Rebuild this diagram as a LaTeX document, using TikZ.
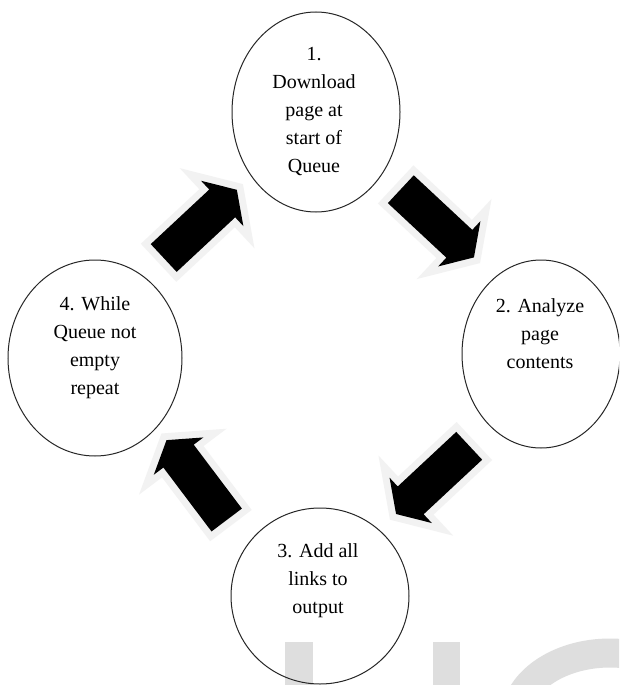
\documentclass[tikz,border=0pt]{standalone}
\usepackage{fontspec}
\setmainfont{Liberation Serif}
\usetikzlibrary{shapes,arrows,positioning}

\begin{document}
\begin{tikzpicture}[x=1pt,y=-1pt]
  \tikzstyle{stage}=[ellipse, draw=black!85, line width=1pt, inner sep=0pt]
  \tikzstyle{stagetext}=[align=center, inner sep=0pt, font=\fontsize{20}{28}\selectfont]
  \tikzstyle{glow}=[draw=black!5, line width=14pt, line join=miter]
  \tikzstyle{wmark}=[fill=black!13]

  \clip (0,0) rectangle (619,685);
  \fill[white] (0,0) rectangle (619,685);

  % watermark at the bottom
  \fill[wmark] (285,642) rectangle (313,690);
  \fill[wmark] (433,642) rectangle (460,690);
  \draw[black!13, line width=29pt] (610,720) ellipse [x radius=95, y radius=67];

  % block arrows (tail x / tail y / angle)
  \foreach \x/\y/\a in {163.7/258/43, 400.8/189.2/-43, 469.2/445.8/-137, 226.7/520/127}
    \path[shift={(\x,\y)}, rotate=\a, fill=black, preaction={glow}]
      (0,-19) -- (80,-19) -- (80,-31) -- (100,0) -- (80,31) -- (80,19) -- (0,19) -- cycle;

  \node[stage, minimum width=168, minimum height=200] (s1) at (316,112) {};
  \node[stage, minimum width=158, minimum height=188] (s2) at (541,354) {};
  \node[stage, minimum width=178, minimum height=176] (s3) at (320,596) {};
  \node[stage, minimum width=174, minimum height=196] (s4) at (95,358) {};

  \node[stagetext] (t1) at (314,112) {1.\\Download\\page at\\start of\\Queue};
  \node[stagetext] (t2) at (540,334) {2. Analyze\\page\\contents};
  \node[stagetext] (t3) at (318,581) {3. Add all\\links to\\output};
  \node[stagetext] (t4) at (95,348) {4. While\\Queue not\\empty\\repeat};
\end{tikzpicture}
\end{document}
